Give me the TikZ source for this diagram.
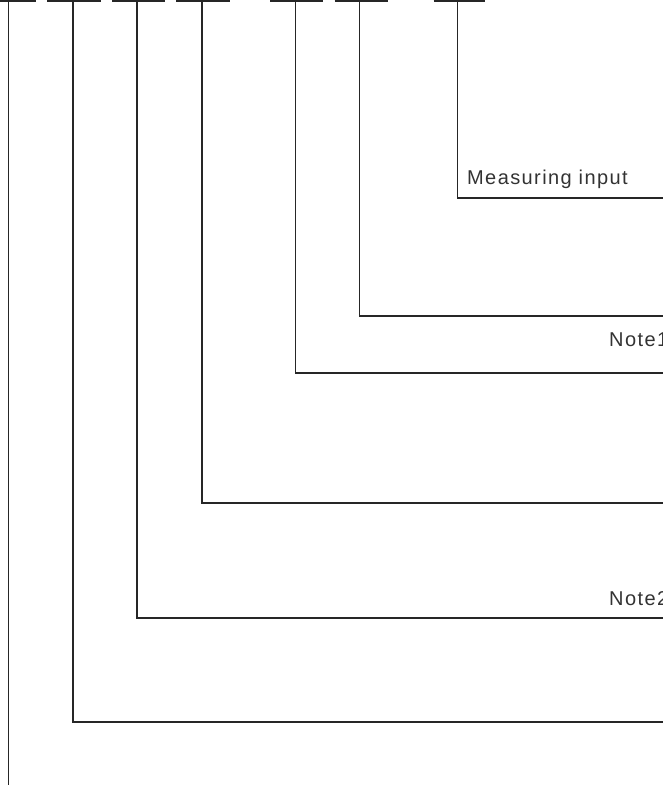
\documentclass[tikz,border=0pt]{standalone}
\usepackage{fontspec}
\setmainfont{Liberation Sans}
\begin{document}
\begin{tikzpicture}[x=1pt,y=-1pt,
  lead/.style={line width=1.3pt, draw=black!85, line cap=rect},
  barline/.style={line width=1.5pt, draw=black!85},
  lbl/.style={font=\fontsize{20}{20}\selectfont\addfontfeature{LetterSpace=7}, text=black!80, inner sep=0pt, anchor=base west}]
\useasboundingbox (0,0) rectangle (663,785);
\clip (0,0) rectangle (663,785);
% top bars
\coordinate (b1l) at (-18,1); \coordinate (b1r) at (36,1);
\coordinate (b2l) at (47,1);  \coordinate (b2r) at (101,1);
\coordinate (b3l) at (112,1); \coordinate (b3r) at (165,1);
\coordinate (b4l) at (176,1); \coordinate (b4r) at (229.5,1);
\coordinate (b5l) at (270,1); \coordinate (b5r) at (323,1);
\coordinate (b6l) at (334.5,1); \coordinate (b6r) at (387.6,1);
\coordinate (b7l) at (433.5,1); \coordinate (b7r) at (485,1);
\foreach \i in {1,...,7} {\draw[barline] (b\i l) -- (b\i r);}
% leader top points
\coordinate (t1) at (8.5,1);
\coordinate (t2) at (73,1);
\coordinate (t3) at (137,1);
\coordinate (t4) at (202,1);
\coordinate (t5) at (295.5,1);
\coordinate (t6) at (359.5,1);
\coordinate (t7) at (457.5,1);
% corners
\coordinate (c1) at (8.5,784);
\coordinate (c2) at (73,722);
\coordinate (c3) at (137,618);
\coordinate (c4) at (202,503);
\coordinate (c5) at (295.5,373);
\coordinate (c6) at (359.5,316);
\coordinate (c7) at (457.5,198);
% right ends
\coordinate (e2) at (664,722);
\coordinate (e3) at (664,618);
\coordinate (e4) at (664,503);
\coordinate (e5) at (664,373);
\coordinate (e6) at (664,316);
\coordinate (e7) at (664,198);
\draw[lead] (t1) -- (c1);
\foreach \i in {2,...,7} {\draw[lead] (t\i) -- (c\i) -- (e\i);}
% labels
\node[lbl] (mi) at (467,184) {Measuring input};
\node[lbl] (n1) at (609,346) {Note1};
\node[lbl] (n2) at (609,605) {Note2};
\end{tikzpicture}
\end{document}
